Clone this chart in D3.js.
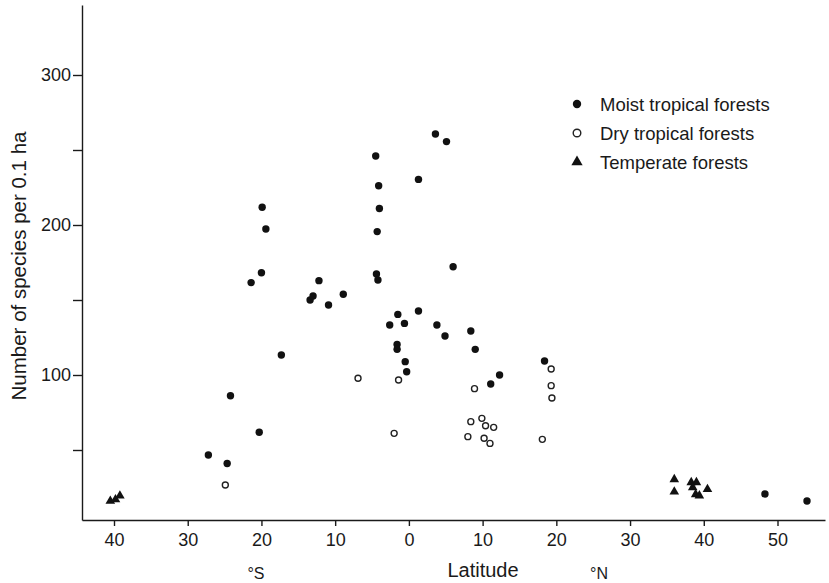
<!DOCTYPE html>
<html>
<head>
<meta charset="utf-8">
<script src="https://cdn.jsdelivr.net/npm/d3@7"></script>
<style>
    body { margin: 0; background: #fff; }
    svg text { font-family: "Liberation Sans", Arial, sans-serif; fill: #1a1a1a; }
</style>
</head>
<body>
<div id="chart"></div>
<script>
// latitude: negative = south, positive = north
var moistLat = [-27.2, -24.65, -20.3, -24.2, -17.3, -21.4, -20.0, -19.4, -19.9, -13.4, -13.0, -12.2, -10.9, -8.9,
    -4.5, -4.1, -4.0, -4.3, -4.4, -4.2, -2.6, -1.5, -1.6, -1.6, -0.6, -0.5, -0.3, 1.3, 1.3, 3.6, 5.1, 6.0,
    3.8, 4.9, 8.4, 9.0, 11.1, 12.3, 18.4, 48.3, 54.0];
var moistSpp = [46.7, 41, 61.8, 86.2, 113.3, 161.6, 168.2, 197.3, 211.8, 150, 152.7, 162.9, 146.7, 153.8,
    246, 226.2, 211, 195.6, 167.3, 163.3, 133.3, 140.4, 120.4, 117.1, 134.4, 108.9, 102.2, 230.4, 142.7, 260.7, 255.6, 172.2,
    133.3, 126, 129.3, 117.1, 94, 100, 109.3, 20.7, 16];

var dryLat = [-24.9, -6.9, -1.4, -2.0, 8.9, 8.4, 9.9, 10.4, 11.5, 8.0, 10.2, 11.0, 18.1, 19.3, 19.3, 19.4];
var drySpp = [26.7, 97.8, 96.7, 61.1, 90.9, 68.9, 71.1, 66.2, 65.1, 58.9, 57.8, 54.4, 57.1, 104, 92.9, 84.7];

var tempLat = [-40.5, -39.8, -39.2, 36.0, 36.0, 38.3, 39.0, 38.5, 38.9, 39.4, 40.5];
var tempSpp = [16, 17, 19.5, 30.4, 22.2, 28.4, 28.4, 25.1, 20.4, 19.6, 23.8];

var xTicks = [-40, -30, -20, -10, 0, 10, 20, 30, 40, 50];
var yTicks = [50, 100, 150, 200, 250, 300];
var legendLabels = ['Moist tropical forests', 'Dry tropical forests', 'Temperate forests'];

var width = 829, height = 583;

var svg = d3.select('#chart')
    .append('svg')
    .attr('width', width)
    .attr('height', height);

// scales (calibrated on the tick marks, then stretched to the axis ends)
var x = d3.scaleLinear().domain([-40, 50]).range([114, 777.5]);
x.domain([x.invert(82), x.invert(825)]).range([82, 825]);

var y = d3.scaleLinear().domain([0, 300]).range([525, 75]);
y.domain([y.invert(520), y.invert(5)]).range([520, 5]);

// axes
var xAxis = d3.axisBottom(x)
    .tickValues(xTicks)
    .tickSize(6)
    .tickSizeOuter(0)
    .tickPadding(7)
    .tickFormat(d => Math.abs(d));

var yAxis = d3.axisLeft(y)
    .tickValues(yTicks)
    .tickSize(9)
    .tickSizeOuter(0)
    .tickPadding(2)
    .tickFormat(d => d % 100 === 0 ? d : '');

svg.append('g')
    .attr('class', 'x-axis axis')
    .attr('transform', 'translate(0,520)')
    .call(xAxis);

svg.append('g')
    .attr('class', 'y-axis axis')
    .attr('transform', 'translate(82,0)')
    .call(yAxis);

svg.selectAll('.axis path, .axis line')
    .attr('stroke', '#1a1a1a')
    .attr('stroke-width', 1.4);
svg.selectAll('.axis text')
    .attr('font-size', 18)
    .attr('fill', '#1a1a1a');

// axis titles
svg.append('text')
    .attr('x', 483)
    .attr('y', 577)
    .attr('text-anchor', 'middle')
    .attr('font-size', 20)
    .text('Latitude');

svg.append('text')
    .attr('x', 256)
    .attr('y', 579)
    .attr('text-anchor', 'middle')
    .attr('font-size', 16)
    .text('°S');

svg.append('text')
    .attr('x', 599)
    .attr('y', 579)
    .attr('text-anchor', 'middle')
    .attr('font-size', 16)
    .text('°N');

svg.append('text')
    .attr('transform', 'translate(26,266) rotate(-90)')
    .attr('text-anchor', 'middle')
    .attr('font-size', 20.5)
    .text('Number of species per 0.1 ha');

// points
var plot = svg.append('g');

plot.selectAll('.moist')
    .data(d3.zip(moistLat, moistSpp))
    .enter()
    .append('circle')
    .attr('class', 'moist')
    .attr('cx', d => x(d[0]))
    .attr('cy', d => y(d[1]))
    .attr('r', 3.7)
    .attr('fill', '#111');

plot.selectAll('.dry')
    .data(d3.zip(dryLat, drySpp))
    .enter()
    .append('circle')
    .attr('class', 'dry')
    .attr('cx', d => x(d[0]))
    .attr('cy', d => y(d[1]))
    .attr('r', 3)
    .attr('fill', '#fff')
    .attr('stroke', '#222')
    .attr('stroke-width', 1.4);

var tri = d3.symbol().type(d3.symbolTriangle).size(40);

plot.selectAll('.temperate')
    .data(d3.zip(tempLat, tempSpp))
    .enter()
    .append('path')
    .attr('class', 'temperate')
    .attr('transform', d => 'translate(' + x(d[0]) + ',' + y(d[1]) + ')')
    .attr('d', tri)
    .attr('fill', '#111');

// legend
var legend = svg.append('g')
    .attr('transform', 'translate(577,104)');

var rows = legend.selectAll('g')
    .data(legendLabels)
    .enter()
    .append('g')
    .attr('transform', (d, i) => 'translate(0,' + i * 29 + ')');

rows.append('text')
    .attr('x', 23)
    .attr('y', 6.5)
    .attr('font-size', 18.5)
    .text(d => d);

rows.filter((d, i) => i === 0).append('circle')
    .attr('r', 4.2)
    .attr('fill', '#111');
rows.filter((d, i) => i === 1).append('circle')
    .attr('r', 3.8)
    .attr('fill', '#fff')
    .attr('stroke', '#222')
    .attr('stroke-width', 1.4);
rows.filter((d, i) => i === 2).append('path')
    .attr('d', d3.symbol().type(d3.symbolTriangle).size(55))
    .attr('fill', '#111');
</script>
</body>
</html>
